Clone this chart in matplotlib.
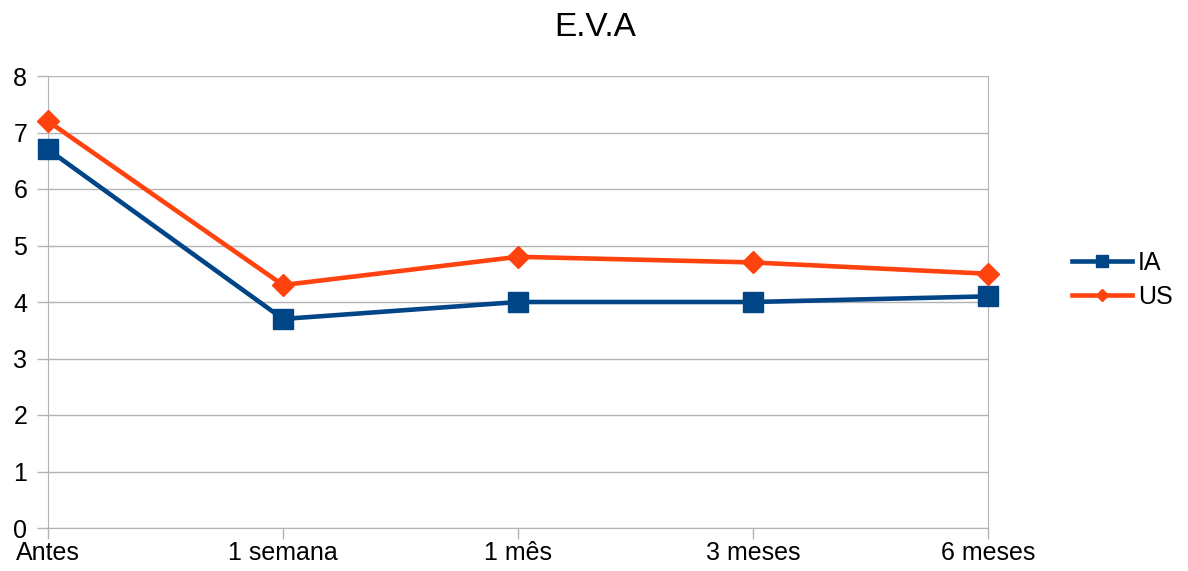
import matplotlib
matplotlib.use("Agg")
import matplotlib.pyplot as plt

plt.rcParams['font.family'] = ['Liberation Sans', 'DejaVu Sans']

categories = ["Antes", "1 semana", "1 mês", "3 meses", "6 meses"]
ia_values = [6.7, 3.7, 4.0, 4.0, 4.1]
us_values = [7.2, 4.3, 4.8, 4.7, 4.5]
y_ticks = [0, 1, 2, 3, 4, 5, 6, 7, 8]

fig = plt.figure(figsize=(11.88, 5.71), dpi=100)
ax = fig.add_axes([48/1188, 1-528/571, (988-48)/1188, (528-76)/571])

x = list(range(len(categories)))
ax.plot(x, ia_values, color='#004586', lw=3.3, marker='s', ms=15, label='IA', zorder=3, clip_on=False)
ax.plot(x, us_values, color='#ff420e', lw=3.3, marker='D', ms=11, label='US', zorder=3, clip_on=False)

ax.set_xlim(0, len(categories)-1)
ax.set_ylim(0, 8)
ax.set_yticks(y_ticks)
ax.set_xticks(x)
ax.set_xticklabels(categories)
ax.yaxis.grid(True, color='#b3b3b3', lw=1)
ax.set_axisbelow(True)
for s in ['left', 'right', 'bottom']:
    ax.spines[s].set_color('#b3b3b3')
ax.spines['top'].set_visible(False)
ax.tick_params(axis='both', colors='#b3b3b3', labelcolor='black', labelsize=18, length=8, width=1)
ax.tick_params(axis='x', pad=1)
ax.tick_params(axis='y', pad=7)

fig.text(595/1188, 1-27/571, "E.V.A", ha='center', va='center', fontsize=24)

leg = fig.legend(loc='center left', bbox_to_anchor=(1072/1188, 1-280/571), frameon=False,
                 borderpad=0, borderaxespad=0,
                 fontsize=18, handlelength=2.4, labelspacing=0.4, handletextpad=0.25, markerscale=0.6)

fig.savefig("out.png", dpi=100)
